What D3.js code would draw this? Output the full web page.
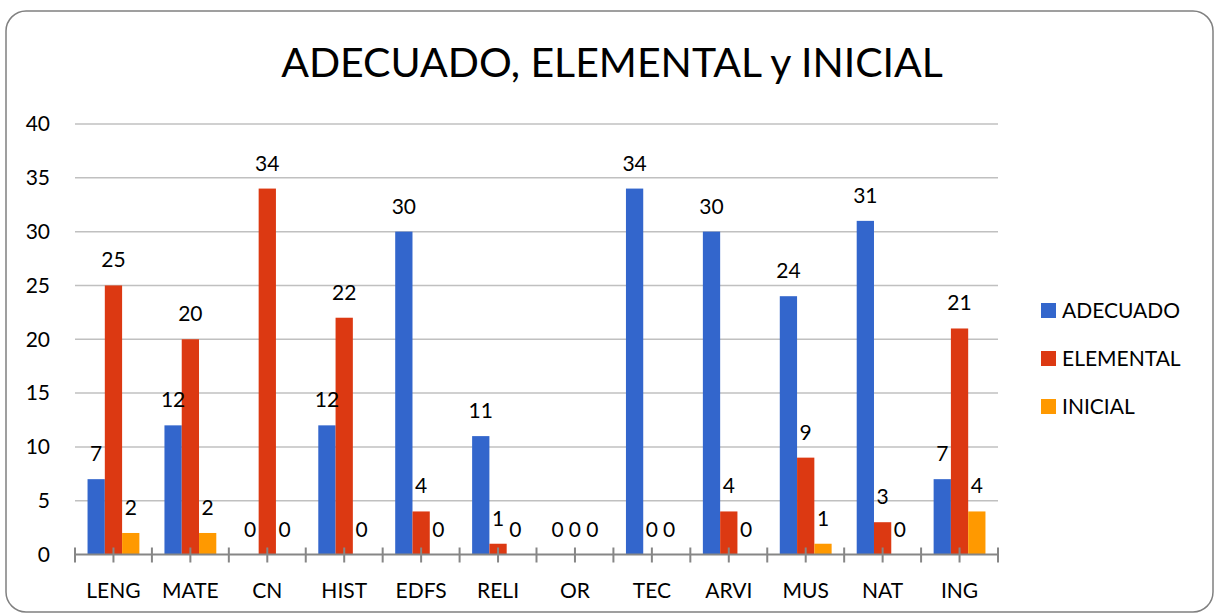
<!DOCTYPE html>
<html>
<head>
<meta charset="utf-8">
<script src="https://cdn.jsdelivr.net/npm/d3@7"></script>
<style>
  body { margin: 0; background: #fff; }
  text { font-family: Lato, "Noto Sans", sans-serif; fill: #000; }
</style>
</head>
<body>
<svg id="svg"></svg>
<script>
/**
 * DATA
 * */
const categories = ["LENG", "MATE", "CN", "HIST", "EDFS", "RELI", "OR", "TEC", "ARVI", "MUS", "NAT", "ING"];
const seriesNames = ["ADECUADO", "ELEMENTAL", "INICIAL"];
const adecuado  = [7, 12, 0, 12, 30, 11, 0, 34, 30, 24, 31, 7];
const elemental = [25, 20, 34, 22, 4, 1, 0, 0, 4, 9, 3, 21];
const inicial   = [2, 2, 0, 0, 0, 0, 0, 0, 0, 1, 0, 4];
const yTicks = [0, 5, 10, 15, 20, 25, 30, 35, 40];
const colors = ["#3366cc", "#dc3912", "#ff9900"];

/**
 * CONSTANTS
 * */
const width = 1216,
  height = 613,
  margin = { top: 124, bottom: 58.5, left: 75, right: 218 };

const svg = d3.select("#svg")
  .attr("width", width)
  .attr("height", height);

// chart frame
svg.append("rect")
  .attr("x", 6).attr("y", 11)
  .attr("width", 1207).attr("height", 601)
  .attr("rx", 20)
  .attr("fill", "#fff")
  .attr("stroke", "#808080")
  .attr("stroke-width", 1.5);

const table = categories.map((c, i) => ({
  cat: c,
  values: [adecuado[i], elemental[i], inicial[i]]
}));

const xScale = d3.scaleBand()
  .domain(categories)
  .range([margin.left, width - margin.right]);

const bw = xScale.bandwidth();
const xInner = d3.scaleBand()
  .domain(d3.range(seriesNames.length))
  .range([bw * 0.163, bw * (1 - 0.163)]);

const yScale = d3.scaleLinear()
  .domain([0, 40])
  .range([height - margin.bottom, margin.top]);

// gridlines
svg.append("g")
  .selectAll("line")
  .data(yTicks.filter(d => d > 0))
  .join("line")
  .attr("x1", margin.left)
  .attr("x2", width - margin.right)
  .attr("y1", d => yScale(d))
  .attr("y2", d => yScale(d))
  .attr("stroke", "#c0c0c0")
  .attr("stroke-width", 1.5);

// y labels
svg.append("g")
  .selectAll("text")
  .data(yTicks)
  .join("text")
  .attr("x", 50)
  .attr("y", d => yScale(d))
  .attr("dy", "0.35em")
  .attr("text-anchor", "end")
  .style("font-size", "21px")
  .text(d => d);

// bars
const groups = svg.append("g")
  .selectAll("g")
  .data(table)
  .join("g")
  .attr("transform", d => `translate(${xScale(d.cat)},0)`);

groups.selectAll("rect")
  .data(d => d.values)
  .join("rect")
  .attr("x", (d, i) => xInner(i))
  .attr("width", xInner.bandwidth())
  .attr("y", d => yScale(d))
  .attr("height", d => yScale(0) - yScale(d))
  .attr("fill", (d, i) => colors[i]);

groups.selectAll("text")
  .data(d => d.values)
  .join("text")
  .attr("x", (d, i) => xInner(i) + xInner.bandwidth() / 2)
  .attr("y", d => yScale(d) - 18)
  .attr("text-anchor", "middle")
  .style("font-size", "21px")
  .text(d => d);

// x axis line and ticks
const y0 = yScale(0);
svg.append("line")
  .attr("x1", margin.left).attr("x2", width - margin.right)
  .attr("y1", y0).attr("y2", y0)
  .attr("stroke", "#868686")
  .attr("stroke-width", 2);

const tickPos = [];
categories.forEach(c => { tickPos.push(xScale(c)); tickPos.push(xScale(c) + bw / 2); });
tickPos.push(width - margin.right);

svg.append("g")
  .selectAll("line")
  .data(tickPos)
  .join("line")
  .attr("x1", d => d).attr("x2", d => d)
  .attr("y1", y0 - 7).attr("y2", y0 + 8)
  .attr("stroke", "#868686")
  .attr("stroke-width", 2);

// category labels
svg.append("g")
  .selectAll("text")
  .data(categories)
  .join("text")
  .attr("x", d => xScale(d) + bw / 2)
  .attr("y", 598)
  .attr("text-anchor", "middle")
  .style("font-size", "21px")
  .text(d => d);

// title
svg.append("text")
  .attr("x", 612)
  .attr("y", 77)
  .attr("text-anchor", "middle")
  .style("font-size", "41px")
  .text("ADECUADO, ELEMENTAL y INICIAL");

// legend
const legend = svg.append("g")
  .selectAll("g")
  .data(seriesNames)
  .join("g")
  .attr("transform", (d, i) => `translate(1041,${303 + i * 48})`);

legend.append("rect")
  .attr("width", 15).attr("height", 15)
  .attr("fill", (d, i) => colors[i]);

legend.append("text")
  .attr("x", 21)
  .attr("y", 7.5)
  .attr("dy", "0.35em")
  .style("font-size", "21px")
  .text(d => d);
</script>
</body>
</html>
